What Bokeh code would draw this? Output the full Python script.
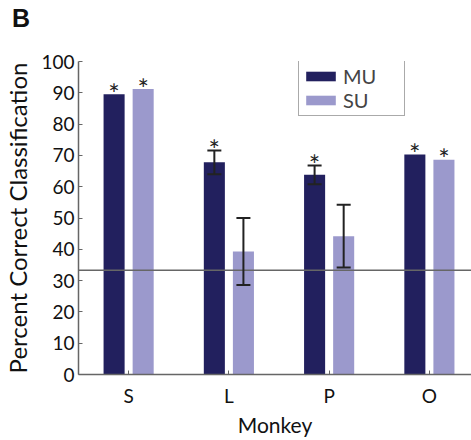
from bokeh.plotting import figure
from bokeh.layouts import column
from bokeh.models import (ColumnDataSource, FixedTicker, Span, Whisker, TeeHead,
                          Legend, LegendItem, Div)
from bokeh.core.properties import value
from bokeh.embed import file_html
from bokeh.resources import INLINE

# Classification accuracy per monkey, multi-unit (MU) vs single-unit (SU)
monkeys = ["S", "L", "P", "O"]
mu_pct = [89.5, 67.8, 63.8, 70.3]
su_pct = [91.2, 39.3, 44.2, 68.6]
mu_err = [0.0, 3.8, 3.0, 0.0]
su_err = [0.0, 10.7, 10.0, 0.0]
mu_sig = [True, True, True, True]
su_sig = [True, False, False, True]
chance = 33.3
y_ticks = [0, 10, 20, 30, 40, 50, 60, 70, 80, 90, 100]

FONT = "Lato"
MU_COLOR = "#22205e"
SU_COLOR = "#9b99cc"
OFFSET = 0.145
BAR_W = 0.21
HEAD_H = 34

x = list(range(1, len(monkeys) + 1))

# panel letter above the chart
panel = Div(text="B", width=471, height=HEAD_H, margin=0,
            styles={"font-family": "Liberation Sans", "font-size": "25px",
                    "font-weight": "bold", "color": "#111111",
                    "line-height": "25px", "padding-left": "12px",
                    "padding-top": "6px", "box-sizing": "border-box"})

p = figure(width=471, height=440 - HEAD_H, x_range=(0.5, 4.42), y_range=(0, 100),
           output_backend="svg", toolbar_location=None,
           min_border_left=78, min_border_right=0, min_border_top=61 - HEAD_H,
           min_border_bottom=66, margin=0)
p.outline_line_color = None
p.grid.visible = False
p.background_fill_color = "white"

mu_src = ColumnDataSource(dict(x=[v - OFFSET for v in x], top=mu_pct))
su_src = ColumnDataSource(dict(x=[v + OFFSET for v in x], top=su_pct))
r_mu = p.vbar(x="x", top="top", width=BAR_W, source=mu_src, fill_color=MU_COLOR,
              line_color=None)
r_su = p.vbar(x="x", top="top", width=BAR_W, source=su_src, fill_color=SU_COLOR,
              line_color=None)

# chance level
p.add_layout(Span(location=chance, dimension="width", line_color="#666666",
                  line_width=1.5))

# error bars where the spread is non-zero, drawn on top of the bars
def add_err(xs, ys, errs):
    xe, lo, hi = [], [], []
    for xi, yi, ei in zip(xs, ys, errs):
        if ei > 0:
            xe.append(xi)
            lo.append(yi - ei)
            hi.append(yi + ei)
    src = ColumnDataSource(dict(x=xe, lower=lo, upper=hi))
    w = Whisker(base="x", lower="lower", upper="upper", source=src,
                level="annotation", line_color="#222222", line_width=2,
                upper_head=TeeHead(size=14, line_color="#222222", line_width=2),
                lower_head=TeeHead(size=14, line_color="#222222", line_width=2))
    p.add_layout(w)

add_err([v - OFFSET for v in x], mu_pct, mu_err)
add_err([v + OFFSET for v in x], su_pct, su_err)

# significance markers
sx, sy = [], []
for xi, yi, ei, s in zip(x, mu_pct, mu_err, mu_sig):
    if s:
        sx.append(xi - OFFSET)
        sy.append(yi + ei)
for xi, yi, ei, s in zip(x, su_pct, su_err, su_sig):
    if s:
        sx.append(xi + OFFSET)
        sy.append(yi + ei)
p.text(x=sx, y=sy, text=["*"] * len(sx), text_align="center",
       text_baseline="alphabetic", y_offset=-1, text_font=value(FONT),
       text_font_size="27px", text_color="#222222")

# axes
for ax in (p.xaxis, p.yaxis):
    ax.axis_line_color = "#666666"
    ax.axis_line_width = 1.5
    ax.major_tick_line_color = "#666666"
    ax.major_tick_in = 4
    ax.major_tick_out = 0
    ax.minor_tick_line_color = None
    ax.major_label_text_font = FONT
    ax.major_label_text_font_size = "19px"
    ax.major_label_text_color = "#111111"
    ax.axis_label_text_font = FONT
    ax.axis_label_text_font_style = "normal"
    ax.axis_label_text_color = "#111111"

p.xaxis.ticker = FixedTicker(ticks=x)
p.xaxis.major_label_overrides = {xi: m for xi, m in zip(x, monkeys)}
p.xaxis.axis_label = "Monkey"
p.xaxis.axis_label_text_font_size = "21px"
p.xaxis.major_label_standoff = 9
p.xaxis.axis_label_standoff = 2
p.yaxis.ticker = FixedTicker(ticks=y_ticks)
p.yaxis.axis_label = "Percent Correct Classification"
p.yaxis.axis_label_text_font_size = "24px"
p.yaxis.axis_label_standoff = 6
p.yaxis.major_label_standoff = 4

legend = Legend(items=[LegendItem(label="MU", renderers=[r_mu]),
                       LegendItem(label="SU", renderers=[r_su])],
                location=(220, 258), orientation="vertical",
                label_text_font=FONT, label_text_font_size="20px",
                glyph_width=37, glyph_height=12, label_standoff=4,
                label_width=58, spacing=0, padding=3, margin=0,
                border_line_color="#555555", border_line_width=1,
                label_height=18)
p.add_layout(legend)

layout = column(panel, p, spacing=0, margin=0)
open("out.html", "w").write(file_html(layout, INLINE))
